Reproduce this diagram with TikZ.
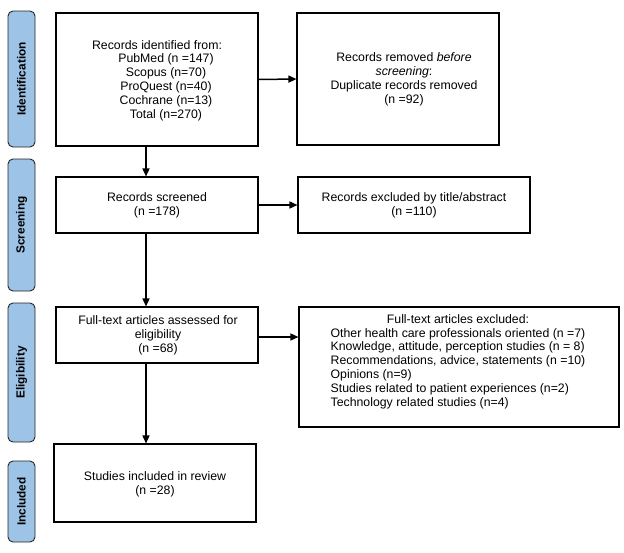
\documentclass[tikz,border=0pt]{standalone}
\usepackage{fontspec}
\setmainfont{Liberation Sans}
\usetikzlibrary{arrows.meta}
\definecolor{barblue}{HTML}{9DC3E6}
\begin{document}
\begin{tikzpicture}[x=1pt,y=-1pt,
  box/.style={draw=black,line width=1.1pt,inner sep=0pt},
  txt/.style={inner sep=0pt,align=center,font=\fontsize{12.3}{13.8}\selectfont},
  bar/.style={draw=black!85,line width=0.9pt,fill=barblue,rounded corners=5pt,inner sep=0pt},
  barlabel/.style={rotate=90,inner sep=0pt,font=\bfseries\fontsize{11.8}{14}\selectfont},
  arr/.style={line width=1.5pt,-{Triangle[length=8pt,width=7pt]}}]
\useasboundingbox (0,0) rectangle (624,552);
% phase bars
\draw[bar] (8,11) rectangle (35,147);
\node[barlabel] (lid) at (21.5,79) {Identification};
\draw[bar] (8,159) rectangle (35,291);
\node[barlabel] (lsc) at (21.5,225) {Screening};
\draw[bar] (8,303) rectangle (35,442);
\node[barlabel] (lel) at (21.5,372.5) {Eligibility};
\draw[bar] (8,461) rectangle (35,542);
\node[barlabel] (lin) at (21.5,501.5) {Included};
% boxes
\node[box,minimum width=202pt,minimum height=133pt] (b1) at (157,79.5) {};
\node[txt] (t1) at (166,80.5) {Records identified from:\hspace*{18pt}\\PubMed (n =147)\\Scopus (n=70)\\ProQuest (n=40)\\Cochrane (n=13)\\Total (n=270)};
\node[box,minimum width=202pt,minimum height=132pt] (b2) at (398,79) {};
\node[txt] (t2) at (404,79.5) {Records removed \textit{before}\\\textit{screening}:\\Duplicate records removed\\(n =92)};
\node[box,minimum width=202pt,minimum height=56pt] (b3) at (157,205) {};
\node[txt] (t3) at (157,205) {Records screened\\(n =178)};
\node[box,minimum width=232pt,minimum height=56pt] (b4) at (414,205) {};
\node[txt] (t4) at (414,205) {Records excluded by title/abstract\\(n =110)};
\node[box,minimum width=202pt,minimum height=56pt] (b5) at (157,335) {};
\node[txt] (t5) at (158,335.5) {Full-text articles assessed for\\eligibility\\(n =68)};
\node[box,minimum width=320pt,minimum height=120pt] (b6) at (459,367) {};
\node[txt] (t6) at (458,362) {\def\arraystretch{1}\begin{tabular}{@{}l@{}}\multicolumn{1}{c}{Full-text articles excluded:}\\Other health care professionals oriented (n =7)\\Knowledge, attitude, perception studies (n = 8)\\Recommendations, advice, statements (n =10)\\Opinions (n=9)\\Studies related to patient experiences (n=2)\\Technology related studies (n=4)\end{tabular}};
\node[box,minimum width=202pt,minimum height=78pt] (b7) at (155,483) {};
\node[txt] (t7) at (155,484) {Studies included in review\\(n =28)};
% connectors
\coordinate (ax) at (146,0);
\coordinate (ay) at (0,337);
\draw[arr] (b1.south -| ax) -- (b3.north -| ax);
\draw[arr] (b3.south -| ax) -- (b5.north -| ax);
\draw[arr] (b5.south -| ax) -- (b7.north -| ax);
\draw[arr] (b1.east) -- (b2.west);
\draw[arr] (b3.east) -- (b4.west);
\draw[arr] (b5.east |- ay) -- (b6.west |- ay);
\end{tikzpicture}
\end{document}
